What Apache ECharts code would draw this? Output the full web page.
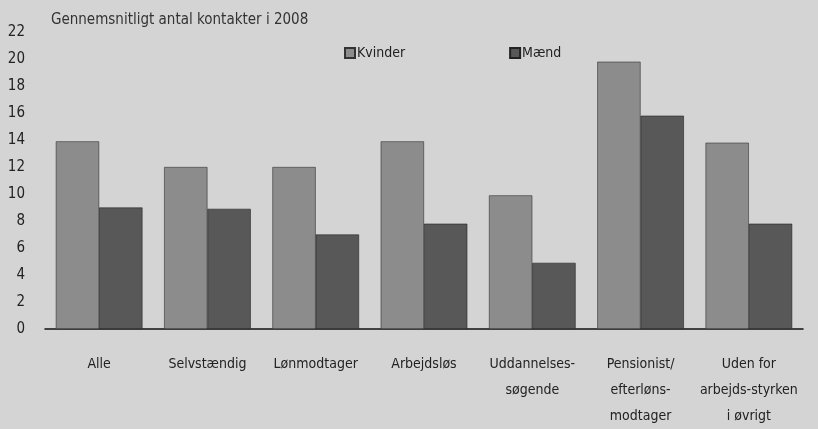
<!DOCTYPE html>
<html>
<head>
<meta charset="utf-8">
<script src="https://cdn.jsdelivr.net/npm/echarts@6/dist/echarts.min.js"></script>
<style>
    html,body{margin:0;padding:0;background:#d4d4d4;}
    #ChartMain{width:818px;height:429px;}
</style>
</head>
<body>
<div id="ChartMain"></div>
<script type="text/javascript">
    var categories = ['Alle', 'Selvstændig', 'Lønmodtager', 'Arbejdsløs', 'Uddannelses-\nsøgende', 'Pensionist/\nefterløns-\nmodtager', 'Uden for\narbejds-styrken\ni øvrigt'];
    var kvinder = [13.9, 12.0, 12.0, 13.9, 9.9, 19.8, 13.8];
    var maend = [9.0, 8.9, 7.0, 7.8, 4.9, 15.8, 7.8];
    var yTicks = [0, 2, 4, 6, 8, 10, 12, 14, 16, 18, 20, 22];
    var font = '"Liberation Sans Narrow", "DejaVu Sans Condensed", sans-serif';

    var myChart = echarts.init(document.getElementById('ChartMain'));
    var option = {
        backgroundColor: '#d4d4d4',
        color: ['#8c8c8c', '#585858'],
        title: {
            text: 'Gennemsnitligt antal kontakter i 2008',
            left: 46,
            top: 8,
            textStyle: {fontFamily: font, fontSize: 15, fontWeight: 'normal', color: '#333'}
        },
        legend: {
            data: ['Kvinder', 'Mænd'],
            left: 339,
            top: 41,
            itemGap: 104,
            itemWidth: 10,
            itemHeight: 10,
            icon: 'rect',
            textStyle: {fontFamily: font, fontSize: 14, color: '#222', padding: [0, 0, 0, -3]}
        },
        grid: {
            left: 45,
            right: 15,
            top: 32,
            bottom: 97
        },
        xAxis: {
            type: 'category',
            data: categories,
            axisLine: {lineStyle: {color: '#111', width: 1.5}},
            axisTick: {show: false},
            axisLabel: {fontFamily: font, fontSize: 14, color: '#222', margin: 22, lineHeight: 26, interval: 0}
        },
        yAxis: {
            type: 'value',
            min: 0,
            max: yTicks[yTicks.length - 1],
            interval: 2,
            splitLine: {show: false},
            axisLine: {show: false},
            axisTick: {show: false},
            axisLabel: {fontFamily: font, fontSize: 15, color: '#222', margin: 20}
        },
        series: [
            {
                name: 'Kvinder',
                type: 'bar',
                data: kvinder,
                barGap: '0%',
                barCategoryGap: '20%',
                itemStyle: {borderColor: '#333', borderWidth: 0.6}
            },
            {
                name: 'Mænd',
                type: 'bar',
                data: maend,
                itemStyle: {borderColor: '#222', borderWidth: 0.6}
            }
        ]
    };
    myChart.setOption(option);
</script>
</body>
</html>
